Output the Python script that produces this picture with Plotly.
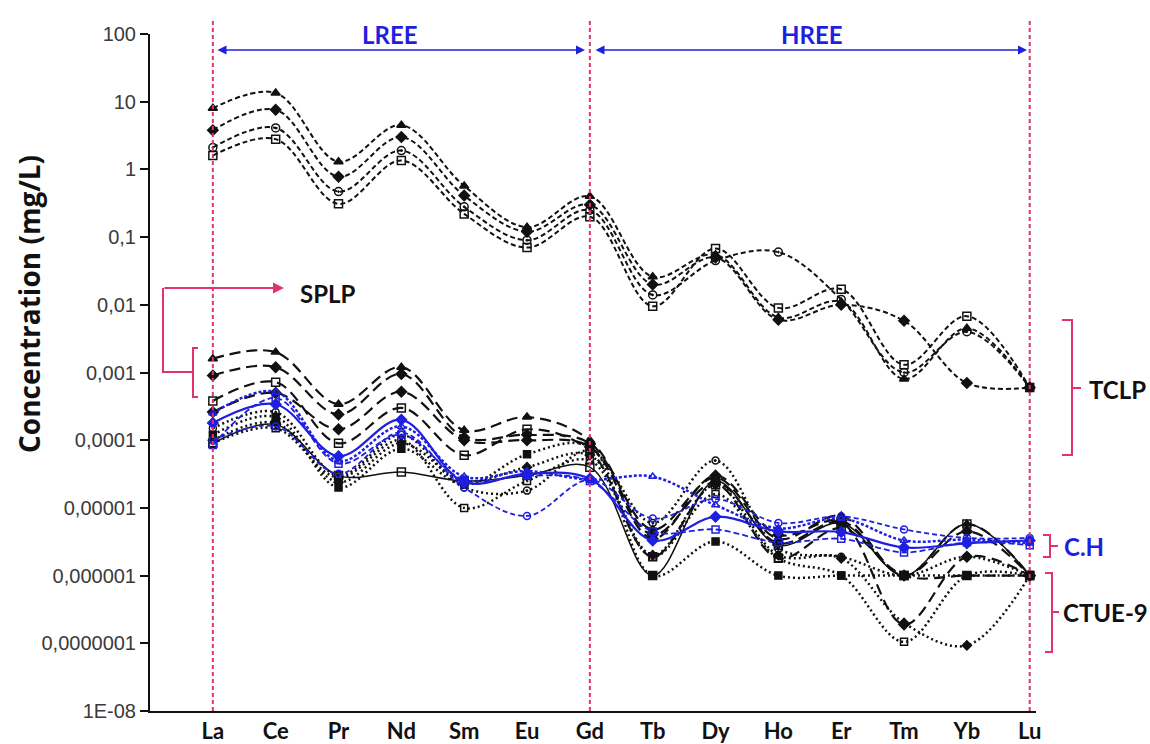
import plotly.graph_objects as go

# Rare earth elements (x categories)
elements = ["La", "Ce", "Pr", "Nd", "Sm", "Eu", "Gd", "Tb", "Dy", "Ho", "Er", "Tm", "Yb", "Lu"]

# TCLP leachates (mg/L)
tclp_a = [8.0, 13.5, 1.3, 4.5, 0.57, 0.14, 0.40, 0.026, 0.055, 0.0065, 0.011, 0.0008, 0.0045, 0.0006]
tclp_b = [3.8, 7.6, 0.78, 3.0, 0.41, 0.12, 0.30, 0.020, 0.050, 0.0060, 0.010, 0.0058, 0.0007, 0.0006]
tclp_c = [2.1, 4.1, 0.47, 1.9, 0.28, 0.09, 0.25, 0.014, 0.045, 0.060, 0.012, 0.0010, 0.0040, 0.0006]
tclp_d = [1.6, 2.8, 0.31, 1.35, 0.22, 0.07, 0.20, 0.0095, 0.068, 0.0090, 0.017, 0.0013, 0.0068, 0.0006]

# SPLP leachates (mg/L)
splp_a = [0.0016, 0.0020, 0.00034, 0.0012, 0.00014, 0.00022, 0.00010, 4.8e-6, 2.8e-5, 3.5e-6, 7.6e-6, 1.0e-6, 5.8e-6, 1.0e-6]
splp_b = [0.0009, 0.0012, 0.00024, 0.00095, 0.00011, 0.00012, 0.00009, 4.0e-6, 2.4e-5, 3.0e-6, 6.0e-6, 1.9e-7, 1.9e-6, 1.0e-6]
splp_c = [0.00038, 0.00072, 0.00009, 0.00030, 0.00006, 0.000145, 0.00007, 1.9e-6, 2.2e-5, 1.8e-6, 5.0e-6, 1.0e-6, 1.0e-6, 1.0e-6]
splp_d = [0.00026, 0.00050, 0.000145, 0.00052, 0.00010, 0.00010, 0.00008, 3.5e-6, 3.0e-5, 4.0e-6, 6.5e-6, 1.0e-6, 4.5e-6, 1.0e-6]

# CTUE-9 leachates (mg/L)
ctue_a = [0.00012, 0.00022, 2.0e-5, 7.5e-5, 2.2e-5, 6.2e-5, 8.0e-5, 1.0e-6, 3.2e-6, 1.0e-6, 1.0e-6, 1.0e-6, 1.0e-6, 1.0e-6]
ctue_b = [0.00015, 0.00026, 3.0e-5, 0.00012, 2.0e-5, 1.8e-5, 7.0e-5, 6.0e-6, 5.0e-5, 2.5e-6, 1.9e-6, 1.0e-6, 1.9e-6, 1.0e-6]
ctue_c = [0.00010, 0.00018, 2.4e-5, 9.0e-5, 2.5e-5, 4.0e-5, 6.0e-5, 2.0e-6, 2.2e-5, 2.0e-6, 1.8e-6, 2.0e-7, 9.3e-8, 1.0e-6]
ctue_d = [0.00009, 0.00015, 2.8e-5, 0.00010, 1.0e-5, 2.5e-5, 5.0e-5, 1.9e-6, 1.6e-5, 1.8e-6, 1.0e-6, 1.05e-7, 1.0e-6, 1.0e-6]
ctue_e = [0.00009, 0.00017, 3.0e-5, 3.4e-5, 2.5e-5, 3.0e-5, 4.0e-5, 1.0e-6, 2.5e-5, 2.8e-6, 6.0e-6, 1.0e-6, 5.8e-6, 1.0e-6]

# C.H leachates (mg/L)
ch_a = [0.00018, 0.00034, 5.8e-5, 0.00020, 2.4e-5, 3.2e-5, 2.7e-5, 3.3e-6, 7.4e-6, 4.5e-6, 4.4e-6, 2.6e-6, 3.0e-6, 3.3e-6]
ch_b = [0.00010, 0.00016, 3.2e-5, 0.00013, 2.0e-5, 7.6e-6, 2.6e-5, 7.0e-6, 1.35e-5, 6.0e-6, 7.5e-6, 4.8e-6, 3.6e-6, 3.6e-6]
ch_c = [0.00025, 0.00052, 4.9e-5, 0.00016, 2.9e-5, 3.5e-5, 2.6e-5, 2.9e-5, 1.1e-5, 5.0e-6, 7.0e-6, 3.3e-6, 3.4e-6, 3.0e-6]
ch_d = [8.5e-5, 0.00042, 4.5e-5, 0.00012, 2.6e-5, 3.0e-5, 2.5e-5, 4.5e-6, 4.8e-6, 3.1e-6, 3.5e-6, 2.2e-6, 3.1e-6, 2.8e-6]

y_tickvals = [1e-8, 1e-7, 1e-6, 1e-5, 1e-4, 1e-3, 1e-2, 1e-1, 1, 10, 100]
y_ticktext = ["1E-08", "0,0000001", "0,000001", "0,00001", "0,0001", "0,001",
              "0,01", "0,1", "1", "10", "100"]

BLACK = "#111111"
BLUE = "#1f1fe0"
RED = "#e3336b"

x_idx = list(range(len(elements)))

fig = go.Figure()


def add_series(values, color, dash, width, symbol, size=8):
    fig.add_trace(go.Scatter(
        x=x_idx, y=values, mode="lines+markers",
        line=dict(color=color, dash=dash, width=width, shape="spline", smoothing=1.0),
        marker=dict(symbol=symbol, size=size, color=color,
                    line=dict(color=color, width=1.5)),
        showlegend=False,
    ))


short_dash = "5px,3px"
long_dash = "11px,6px"
dotted = "2px,3px"

# low-concentration groups first so TCLP sits on top
for vals, sym in [(ctue_a, "square"), (ctue_b, "circle-open-dot"),
                  (ctue_c, "diamond"), (ctue_d, "square-open")]:
    add_series(vals, BLACK, dotted, 2.5, sym, 7)
add_series(ctue_e, BLACK, "solid", 1.5, "square-open", 8)

for vals, sym in [(splp_a, "triangle-up"), (splp_b, "diamond"),
                  (splp_c, "square-open"), (splp_d, "diamond")]:
    add_series(vals, BLACK, long_dash, 2.2, sym, 8)

add_series(ch_a, BLUE, "solid", 2.2, "diamond", 8)
add_series(ch_b, BLUE, "5px,3px", 1.8, "circle-open", 7)
add_series(ch_c, BLUE, "3px,2px", 2.5, "triangle-up-open", 7)
add_series(ch_d, BLUE, "6px,3px", 1.8, "square-open", 7)

for vals, sym in [(tclp_a, "triangle-up"), (tclp_b, "diamond"),
                  (tclp_c, "circle-open-dot"), (tclp_d, "square-open")]:
    add_series(vals, BLACK, short_dash, 2.0, sym, 8)

# plot-area pixel frame used for paper-coordinate annotations
L, R, T, B = 150, 1036, 34, 711


def px(x):
    return (x - L) / (R - L)


def py(y):
    return (B - y) / (B - T)


shapes = []
# red dashed boundaries at La, Gd and Lu
for xi in (0, 6, 13):
    shapes.append(dict(type="line", xref="x", yref="paper", x0=xi, x1=xi,
                       y0=0, y1=py(18), line=dict(color=RED, width=2, dash="4px,3px")))


def path(*segments):
    out = []
    for seg in segments:
        pts = [f"{px(a):.5f},{py(b):.5f}" for a, b in seg]
        out.append("M" + " L".join(pts))
    return " ".join(out)


bracket_line = dict(color=RED, width=2)
shapes.append(dict(type="path", xref="paper", yref="paper", line=bracket_line,
                   path=path([(198, 348), (193, 348), (193, 397), (198, 397)],
                             [(193, 372), (163, 372), (163, 288)])))
shapes.append(dict(type="path", xref="paper", yref="paper", line=bracket_line,
                   path=path([(1062, 320), (1072, 320), (1072, 455), (1062, 455)],
                             [(1072, 388), (1081, 388)])))
shapes.append(dict(type="path", xref="paper", yref="paper", line=bracket_line,
                   path=path([(1043, 535), (1050, 535), (1050, 557), (1043, 557)],
                             [(1050, 546), (1058, 546)])))
shapes.append(dict(type="path", xref="paper", yref="paper", line=bracket_line,
                   path=path([(1045, 573), (1052, 573), (1052, 652), (1045, 652)],
                             [(1052, 612), (1059, 612)])))

label_font = dict(family="Lato, Open Sans, sans-serif", size=24, color=BLACK)
blue_font = dict(family="Lato, Open Sans, sans-serif", size=24, color=BLUE)


def text_note(x, y, text, font, xanchor="center"):
    return dict(xref="paper", yref="paper", x=px(x), y=py(y), text=text,
                xanchor=xanchor, yanchor="middle", showarrow=False, font=font)


annotations = [
    # LREE / HREE double arrows
    dict(xref="paper", yref="paper", x=px(585), y=py(50), ax=-(585 - 216), ay=0,
         showarrow=True, arrowhead=2, arrowside="end+start", arrowsize=1.2,
         arrowwidth=1.5, arrowcolor=BLUE, text="", standoff=0, startstandoff=0),
    dict(xref="paper", yref="paper", x=px(1027), y=py(50), ax=-(1027 - 594), ay=0,
         showarrow=True, arrowhead=2, arrowside="end+start", arrowsize=1.2,
         arrowwidth=1.5, arrowcolor=BLUE, text="", standoff=0, startstandoff=0),
    text_note(390, 34, "<b>LREE</b>", blue_font),
    text_note(812, 34, "<b>HREE</b>", blue_font),
    # SPLP pointer
    dict(xref="paper", yref="paper", x=px(284), y=py(288), ax=-(284 - 163), ay=0,
         showarrow=True, arrowhead=2, arrowsize=1.1, arrowwidth=2,
         arrowcolor=RED, text="", standoff=0),
    text_note(298, 293, "<b>SPLP</b>", label_font, "left"),
    text_note(1087, 389, "<b>TCLP</b>", label_font, "left"),
    text_note(1062, 546, "<b>C.H</b>", blue_font, "left"),
    text_note(1061, 612, "<b>CTUE-9</b>", label_font, "left"),
    # y-axis title
    dict(xref="paper", yref="paper", x=px(29), y=py(304), textangle=-90,
         xanchor="center", yanchor="middle", showarrow=False,
         text="<b>Concentration (mg/L)</b>",
         font=dict(family="Open Sans, sans-serif", size=28, color=BLACK)),
]

fig.update_layout(
    width=1150, height=744,
    margin=dict(l=L, r=1150 - R, t=T, b=744 - B, autoexpand=False),
    paper_bgcolor="white", plot_bgcolor="white",
    shapes=shapes, annotations=annotations,
    showlegend=False,
    xaxis=dict(
        range=[-1, 13.1], tickmode="array", tickvals=x_idx, ticktext=elements,
        showline=True, linecolor=BLACK, linewidth=2, showgrid=False, zeroline=False,
        ticks="", ticklabelstandoff=0, automargin=False,
        tickfont=dict(family="Lato, Open Sans, sans-serif", size=22, color=BLACK,
                      weight="bold"),
    ),
    yaxis=dict(
        type="log", range=[-8, 2], tickmode="array",
        tickvals=y_tickvals, ticktext=y_ticktext, automargin=False,
        showline=True, linecolor=BLACK, linewidth=2, showgrid=False, zeroline=False,
        ticks="outside", ticklen=8, tickwidth=2, tickcolor=BLACK,
        tickfont=dict(family="Liberation Sans, Arial, sans-serif", size=20, color="#3a3a3a"),
    ),
)

fig.write_html("out.html")
